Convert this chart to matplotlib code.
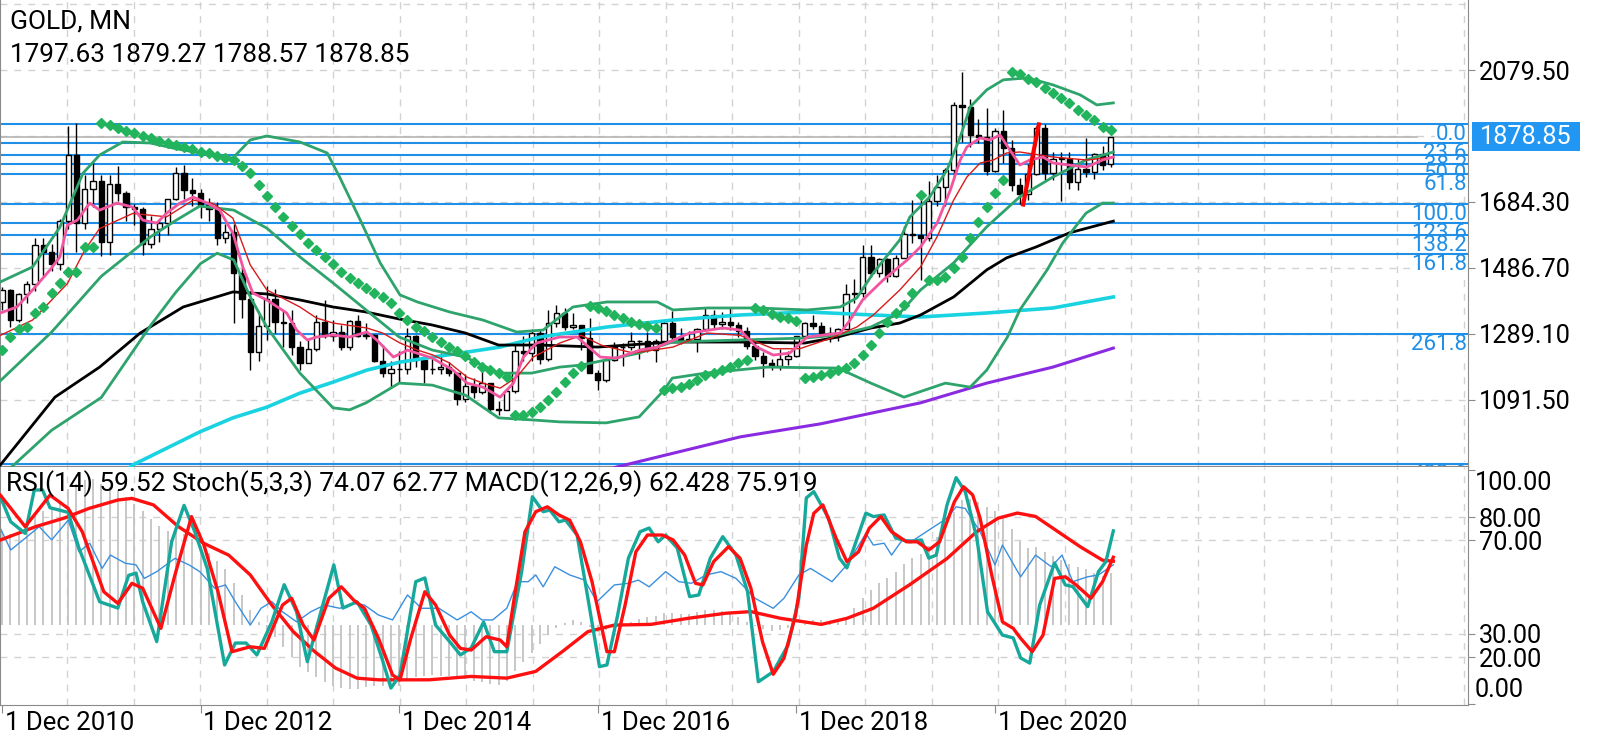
import matplotlib.pyplot as plt
from matplotlib.patches import Rectangle
from matplotlib.transforms import blended_transform_factory

plt.rcParams['font.family'] = ['Roboto', 'DejaVu Sans']

# monthly GOLD candles, bar 0 = Dec 2010 ... bar 134 = Feb 2022
opens = [1386, 1421, 1332, 1409, 1439, 1556, 1536, 1500, 1628, 1826, 1620, 1722,
         1746, 1564, 1737, 1710, 1669, 1664, 1560, 1604, 1622, 1692, 1772, 1719,
         1711, 1675, 1664, 1578, 1595, 1472, 1393, 1234, 1313, 1395, 1326, 1323,
         1251, 1202, 1244, 1326, 1284, 1296, 1250, 1327, 1282, 1287, 1209, 1171,
         1183, 1184, 1283, 1212, 1183, 1184, 1190, 1172, 1095, 1134, 1115, 1142,
         1065, 1061, 1118, 1238, 1233, 1293, 1215, 1322, 1351, 1309, 1316, 1277,
         1173, 1152, 1211, 1249, 1249, 1268, 1268, 1242, 1269, 1322, 1280, 1271,
         1275, 1303, 1345, 1318, 1325, 1316, 1298, 1253, 1224, 1201, 1192, 1215,
         1222, 1282, 1321, 1313, 1292, 1284, 1305, 1409, 1413, 1520, 1472, 1513,
         1464, 1517, 1589, 1585, 1577, 1687, 1730, 1781, 1975, 1968, 1886, 1879,
         1776, 1898, 1847, 1734, 1708, 1769, 1907, 1770, 1814, 1814, 1743, 1783,
         1775, 1829, 1797.63]
highs = [1431, 1424, 1411, 1448, 1576, 1577, 1560, 1632, 1912, 1921, 1764, 1803,
         1764, 1764, 1791, 1718, 1677, 1668, 1642, 1631, 1693, 1788, 1796, 1755,
         1723, 1695, 1683, 1617, 1617, 1487, 1417, 1348, 1434, 1424, 1361, 1361,
         1267, 1270, 1345, 1392, 1332, 1315, 1332, 1345, 1323, 1290, 1255, 1208,
         1239, 1307, 1285, 1220, 1224, 1232, 1205, 1175, 1170, 1157, 1191, 1143,
         1088, 1126, 1263, 1283, 1304, 1303, 1362, 1375, 1366, 1353, 1317, 1338,
         1181, 1220, 1264, 1261, 1295, 1270, 1296, 1274, 1331, 1357, 1306, 1299,
         1307, 1366, 1361, 1356, 1366, 1326, 1309, 1266, 1236, 1214, 1243, 1237,
         1284, 1326, 1347, 1324, 1310, 1306, 1439, 1453, 1555, 1557, 1517, 1516,
         1525, 1611, 1689, 1704, 1747, 1765, 1786, 1984, 2075, 1992, 1933, 1966,
         1906, 1959, 1871, 1755, 1798, 1913, 1917, 1834, 1834, 1835, 1814, 1877,
         1831, 1853, 1879.27]
lows = [1360, 1309, 1324, 1381, 1417, 1462, 1478, 1480, 1602, 1535, 1604, 1670,
        1523, 1527, 1688, 1627, 1614, 1527, 1546, 1564, 1584, 1690, 1692, 1672,
        1635, 1626, 1555, 1562, 1321, 1338, 1180, 1207, 1271, 1291, 1251, 1226,
        1182, 1202, 1238, 1277, 1268, 1240, 1240, 1281, 1273, 1205, 1161, 1131,
        1142, 1168, 1191, 1142, 1170, 1169, 1162, 1077, 1085, 1098, 1110, 1052,
        1046, 1061, 1111, 1208, 1208, 1200, 1208, 1310, 1301, 1303, 1241, 1171,
        1122, 1146, 1208, 1194, 1241, 1214, 1236, 1205, 1267, 1272, 1260, 1264,
        1236, 1302, 1307, 1303, 1302, 1281, 1245, 1211, 1160, 1180, 1182, 1196,
        1221, 1276, 1303, 1281, 1266, 1267, 1305, 1381, 1400, 1459, 1459, 1445,
        1459, 1517, 1563, 1451, 1568, 1671, 1671, 1757, 1863, 1849, 1860, 1764,
        1775, 1802, 1717, 1677, 1690, 1766, 1750, 1751, 1688, 1722, 1721, 1759,
        1753, 1780, 1788.57]
closes = [1421, 1332, 1409, 1439, 1556, 1536, 1500, 1628, 1826, 1620, 1722, 1746,
          1564, 1737, 1710, 1669, 1664, 1560, 1604, 1622, 1692, 1772, 1719, 1711,
          1675, 1664, 1578, 1595, 1472, 1393, 1234, 1313, 1395, 1326, 1323, 1251,
          1202, 1244, 1326, 1284, 1296, 1250, 1327, 1282, 1287, 1209, 1171, 1183,
          1184, 1283, 1212, 1183, 1184, 1190, 1172, 1095, 1134, 1115, 1142, 1065,
          1061, 1118, 1238, 1233, 1293, 1215, 1322, 1351, 1309, 1316, 1277, 1173,
          1152, 1211, 1249, 1249, 1268, 1268, 1242, 1269, 1322, 1280, 1271, 1275,
          1303, 1345, 1318, 1325, 1316, 1298, 1253, 1224, 1201, 1192, 1215, 1222,
          1282, 1321, 1313, 1292, 1284, 1305, 1409, 1413, 1520, 1472, 1513, 1464,
          1517, 1589, 1585, 1577, 1687, 1730, 1781, 1975, 1968, 1886, 1879, 1776,
          1898, 1847, 1734, 1708, 1769, 1907, 1770, 1814, 1814, 1743, 1783, 1775,
          1829, 1796, 1878.85]

date_bars = [0, 24, 48, 72, 96, 120]
date_labels = ["1 Dec 2010", "1 Dec 2012", "1 Dec 2014",
               "1 Dec 2016", "1 Dec 2018", "1 Dec 2020"]

# indicator lines as (bar, value)
bb_upper = [(-0.2, 1445), (3.7, 1490), (7, 1609), (9.8, 1771), (11.8, 1825), (14.6, 1864),
            (17.9, 1861), (21, 1844), (23.9, 1831), (27.9, 1816), (30, 1870), (32, 1882),
            (36, 1864), (39.3, 1831), (40.8, 1759), (43.3, 1630), (45.7, 1502), (48.1, 1406),
            (50.2, 1385), (54.1, 1355), (58.1, 1331), (62.2, 1295), (65.4, 1301), (67.4, 1340),
            (69, 1370), (73.1, 1385), (79.2, 1385), (81.1, 1361), (85.2, 1367), (91.2, 1367),
            (97.3, 1361), (101.3, 1370), (103.3, 1397), (105.3, 1472), (108.5, 1571),
            (109.7, 1639), (112.1, 1699), (114.2, 1780), (115.8, 1879), (117, 1969),
            (119, 2020), (121, 2050), (123.9, 2056), (127, 2035), (130.3, 2005),
            (132.3, 1975), (134.3, 1981)]
bb_middle = [(-0.2, 1149), (6, 1295), (12, 1462), (18, 1581), (21, 1629), (23.9, 1672),
             (28, 1660), (32, 1606), (36, 1520), (40, 1442), (44, 1361), (48, 1280),
             (52, 1241), (56, 1220), (60, 1172), (64, 1172), (67.4, 1190), (70, 1196),
             (77, 1232), (81, 1265), (89, 1271), (97, 1277), (101, 1286), (105, 1310),
             (108.5, 1352), (111, 1421), (115, 1502), (119, 1610), (123, 1700),
             (127, 1759), (131, 1810), (134.3, 1834)]
bb_lower = [(-0.2, 860), (6, 1001), (12, 1099), (18, 1316), (21, 1414), (24, 1500),
            (26, 1531), (28, 1511), (30, 1400), (32, 1310), (36, 1172), (40, 1068),
            (42, 1062), (44, 1083), (48, 1142), (52, 1136), (56, 1106), (60, 1038),
            (64, 1032), (67.4, 1026), (73, 1023), (77, 1041), (80, 1121), (81, 1157),
            (85, 1172), (92.5, 1190), (101, 1187), (105, 1142), (109, 1100), (114, 1142),
            (117, 1130), (119, 1181), (121.5, 1280), (123, 1361), (126.3, 1481),
            (128.2, 1562), (131, 1651), (133, 1681), (134.3, 1681)]
ma_black = [(-0.2, 897), (6.4, 1100), (11.8, 1190), (16.7, 1292), (21.9, 1370),
            (27.9, 1415), (32, 1409), (36, 1391), (40, 1370), (44, 1355), (48, 1334),
            (52, 1316), (56, 1292), (60, 1256), (65, 1256), (72, 1250), (81, 1265),
            (89, 1265), (97, 1262), (101, 1280), (105, 1307), (108.5, 1322), (111, 1346),
            (115, 1400), (119, 1481), (121.4, 1517), (125, 1550), (129, 1592), (134.3, 1627)]
ma_cyan = [(15, 880), (15.8, 897), (23.9, 996), (27.9, 1038), (32, 1070), (36, 1112),
           (40, 1145), (44.1, 1181), (48.1, 1205), (52.1, 1220), (56.2, 1235), (60.2, 1250),
           (65, 1280), (73.1, 1310), (81.1, 1331), (89.2, 1346), (97.3, 1355), (105.3, 1346),
           (111, 1340), (119, 1352), (127, 1367), (134.3, 1400)]
ma_purple = [(73.5, 885), (74.3, 891), (89.2, 981), (98.9, 1020), (111, 1083),
             (119, 1142), (127, 1190), (134.3, 1247)]
ma_pink = [(-0.2, 1352), (1.8, 1370), (3.7, 1421), (5.8, 1481), (7, 1520), (7.9, 1615),
           (9.1, 1630), (10.6, 1681), (11.8, 1660), (13.9, 1681), (15.8, 1669), (17, 1630),
           (18.7, 1621), (19.9, 1651), (21.5, 1681), (23.1, 1699), (24.8, 1681), (26.3, 1660),
           (27.9, 1591), (29.1, 1490), (30.3, 1412), (32, 1391), (34.4, 1352), (35.6, 1301),
           (36.9, 1271), (38, 1280), (40, 1286), (42, 1280), (44.1, 1295), (45.3, 1271),
           (47.3, 1220), (49, 1241), (52, 1217), (54.5, 1181), (56.2, 1142), (58.1, 1130),
           (60.2, 1100), (61.8, 1142), (63, 1220), (64.6, 1262), (67.4, 1280), (69.5, 1280),
           (72.3, 1220), (74.3, 1217), (77.1, 1241), (79.2, 1250), (83.1, 1292), (87.1, 1307),
           (89.2, 1301), (91.2, 1250), (93.2, 1226), (95.2, 1232), (97.3, 1280), (101.3, 1292),
           (102.5, 1331), (104, 1391), (106.5, 1451), (109.4, 1511), (111, 1550), (113, 1621),
           (114.6, 1720), (115.8, 1810), (116.6, 1849), (118.2, 1876), (119.4, 1870),
           (120.6, 1885), (121.8, 1840), (123, 1795), (124.2, 1810), (125.8, 1819),
           (127, 1801), (129, 1795), (131.1, 1789), (133, 1810), (134.3, 1819)]
ma_red = [(-0.2, 1285), (3.7, 1331), (7.9, 1440), (10, 1540), (11.8, 1605), (15.8, 1650),
          (19.9, 1640), (23.1, 1690), (25.5, 1680), (27.9, 1636), (30, 1496), (32, 1421),
          (36, 1370), (38, 1337), (40, 1322), (44.1, 1307), (46, 1292), (48.1, 1262),
          (50.2, 1241), (52.1, 1226), (54.1, 1202), (56.2, 1160), (58.1, 1142), (60.2, 1127),
          (62.2, 1160), (64.2, 1220), (67.4, 1262), (70, 1285), (72.5, 1255), (76.3, 1232),
          (81.1, 1250), (85.2, 1292), (89.2, 1285), (93.2, 1245), (96.4, 1245), (100, 1275),
          (103.3, 1310), (105.3, 1346), (108.5, 1421), (111, 1490), (113, 1580), (115, 1690),
          (116.6, 1759), (118.2, 1801), (119.8, 1810), (121.4, 1831), (123, 1834),
          (127, 1819), (131.1, 1810), (134.3, 1819)]

# parabolic SAR, one dot per bar
sar = [1241, 1279, 1305, 1311, 1351, 1371, 1411, 1443, 1476, 1476, 1551, 1551,
       1922, 1915, 1907, 1897, 1890, 1882, 1875, 1867, 1860, 1855, 1848, 1842,
       1835, 1830, 1822, 1815, 1810, 1793, 1770, 1735, 1702, 1670, 1640, 1612,
       1588, 1561, 1541, 1519, 1498, 1476, 1458, 1441, 1426, 1411, 1399, 1381,
       1353, 1331, 1311, 1299, 1281, 1266, 1251, 1239, 1224, 1206, 1191, 1181,
       1172, 1161, 1047, 1047, 1057, 1072, 1092, 1116, 1146, 1171, 1193, 1373,
       1366, 1359, 1346, 1336, 1326, 1319, 1313, 1306, 1121, 1126, 1131, 1139,
       1151, 1166, 1171, 1181, 1191, 1201, 1211, 1366, 1361, 1349, 1341, 1336,
       1329, 1157, 1161, 1166, 1171, 1180, 1188, 1202, 1226, 1256, 1293, 1326,
       1352, 1376, 1411, 1704, 1451, 1451, 1461, 1486, 1521, 1576, 1625, 1670,
       1710, 1750, 2074, 2069, 2054, 2044, 2025, 2010, 1995, 1980, 1960, 1945,
       1930, 1910, 1900]

# fibonacci retracement (Mar 2021 low -> Jun 2021 high)
fib_high = 1916.6
fib_low = 1676.9
fib_levels = [0.0, 23.6, 38.2, 50.0, 61.8, 100.0, 123.6, 138.2, 161.8, 261.8, 423.6]
fib_anchor = [(123.4, 1676.9), (125.3, 1916.6)]

# lower window: stochastic, RSI, MACD
stoch_main = [(-0.2, 88.7), (1.05, 78), (2.8, 73), (3.9, 91.6), (4.9, 91.6), (5.8, 84), (8.0, 82),
              (9.3, 66.7), (11.8, 43.7), (14.0, 41), (15.3, 55), (16.2, 56), (17.0, 43.7),
              (18.7, 26.6), (20.5, 69.4), (22.0, 85), (23.3, 73.7), (24.8, 58), (26.9, 16.6),
              (28.2, 26), (29.5, 26), (30.8, 20.9), (32.6, 35), (34.1, 51), (35.6, 39.4),
              (36.9, 18), (38.2, 35), (40.1, 59.5), (41.2, 41), (42.9, 43.7), (44.6, 33.7),
              (45.9, 19.6), (47.0, 6.7), (48.1, 12.3), (50.0, 52.3), (51.1, 53.9), (52.4, 33.7),
              (54.1, 26.6), (55.4, 20.9), (56.7, 23.9), (58.2, 35), (59.5, 22.3), (61.0, 22.3),
              (62.8, 56.6), (64.1, 88.7), (65.4, 82.3), (66.2, 83), (67.3, 78), (68.1, 78.7),
              (69.5, 72.3), (70.8, 45.3), (72.2, 15.9), (73.1, 16.6), (74.4, 38), (75.7, 62.4),
              (77.1, 73.7), (78.2, 75.3), (79.3, 69.4), (80.2, 72.3), (81.6, 66.7), (83.1, 45.9),
              (84.2, 46.6), (85.6, 62.4), (87.1, 71.6), (88.7, 63.7), (90.1, 48), (91.4, 9.4),
              (93.2, 13.7), (95.0, 25.2), (96.3, 45.3), (97.2, 88.2), (98.1, 90.9), (99.9, 79.5),
              (101.2, 62.4), (102.1, 58.2), (104.4, 81.7), (105.3, 80.2), (106.6, 80.9),
              (108.0, 71), (109.7, 69.4), (111.1, 70.2), (112.0, 62.4), (112.9, 63.7),
              (114.2, 85.2), (115.3, 96.9), (116.4, 90.9), (117.8, 71), (119.1, 39.4),
              (120.9, 29.4), (122.2, 28.2), (123.1, 19.6), (124.2, 17.4), (125.4, 42.3),
              (127.2, 60.3), (128.5, 50.9), (129.4, 50.2), (131.2, 41.6), (132.5, 56.6),
              (133.4, 60.9), (134.3, 74.07)]
stoch_signal = [(-0.2, 89.4), (2.8, 75.9), (5.8, 89.4), (8.0, 83.7), (9.7, 73.7), (12.3, 48),
                (14.0, 43), (15.7, 51.6), (17.0, 49.5), (19.2, 32.3), (20.9, 55.2), (22.9, 80.2),
                (24.4, 68), (26.1, 48), (27.8, 22.3), (30.0, 24.4), (31.7, 23.7), (33.9, 42.3),
                (35.0, 45.2), (36.4, 33.7), (37.7, 27.3), (39.5, 45.2), (41.0, 50.1), (42.5, 44.4),
                (43.8, 40.9), (45.5, 28), (47.2, 12.3), (48.1, 10.2), (49.4, 28), (51.1, 48),
                (52.4, 42.3), (54.1, 29.4), (55.4, 23.7), (56.7, 23), (58.5, 28.7), (60.2, 27.3),
                (61.0, 24.4), (61.9, 45.2), (63.2, 73.7), (64.5, 82.3), (65.9, 84.4), (67.3, 80.9),
                (68.6, 78.7), (69.9, 69.4), (71.3, 52.3), (73.1, 22.3), (74.0, 22.3), (75.3, 42.3),
                (76.6, 65.1), (78.0, 72.3), (79.8, 72.3), (81.1, 70.2), (82.5, 63.7), (83.8, 51.6),
                (84.7, 50.9), (86.0, 60.9), (87.8, 67.3), (89.2, 62.3), (90.5, 49.5), (91.9, 26.6),
                (93.2, 12.6), (94.5, 19.5), (95.9, 38), (97.2, 68), (98.1, 81.6), (99.2, 85.2),
                (100.8, 70.9), (102.1, 60.9), (103.5, 65.1), (104.8, 75.2), (106.2, 80.2),
                (107.5, 73.7), (109.3, 69.4), (110.6, 69.4), (112.0, 65.9), (113.3, 69.4),
                (115.1, 86.6), (116.2, 93), (117.3, 89.5), (118.2, 79.5), (119.6, 55.2),
                (120.9, 35.1), (122.2, 32.3), (123.1, 28), (124.5, 22.3), (125.8, 29.4),
                (127.2, 53.7), (128.5, 54.4), (129.8, 50.9), (131.6, 45.2), (133.0, 52.3),
                (134.3, 62.77)]
rsi = [(-0.2, 75.2), (1.05, 65.9), (2.8, 70.9), (4.5, 75.9), (6.0, 70.2), (8.0, 78.7), (9.3, 65.1),
       (10.6, 68.8), (12.1, 58), (13.1, 63.7), (14.9, 60.2), (16.2, 59.5), (17.2, 53.7),
       (18.7, 56.6), (20.9, 62.3), (22.6, 59.5), (23.9, 56.6), (25.7, 49.5), (27.0, 50.9),
       (28.2, 43.7), (30.0, 33.7), (31.3, 40.9), (32.6, 43.7), (33.9, 39.4), (35.6, 35.1),
       (37.3, 39.4), (39.0, 42.3), (40.8, 40.9), (42.5, 43), (43.8, 42.3), (45.5, 38),
       (47.2, 35.9), (49.0, 46.6), (50.7, 40.9), (52.8, 40.9), (55.0, 35.9), (56.7, 39.4),
       (58.0, 35.9), (59.3, 35.9), (61.0, 40.9), (62.3, 52.3), (63.6, 52.3), (64.5, 55.2),
       (65.4, 50.1), (66.8, 58.7), (68.6, 55.2), (70.4, 53), (71.9, 43.7), (74.0, 50.9),
       (75.7, 51.6), (76.9, 53), (78.2, 50.1), (80.2, 56.6), (81.8, 52.3), (83.3, 51.6),
       (85.1, 55.2), (86.9, 56.6), (88.7, 53.7), (91.0, 45.2), (93.2, 40.9), (94.5, 45.2),
       (96.3, 55.2), (97.7, 58), (100.3, 52.3), (102.1, 59.5), (104.4, 73), (105.3, 68),
       (106.6, 68.8), (107.5, 63.7), (108.8, 70.2), (110.2, 70.2), (112.0, 74.4), (114.2, 79.5),
       (115.3, 84.4), (116.4, 83.7), (118.2, 73.7), (120.0, 59.5), (120.9, 68), (123.1, 54.4),
       (124.9, 63.7), (126.8, 58.7), (128.1, 63.7), (129.4, 52.3), (131.2, 54.4),
       (132.5, 55.2), (134.3, 59.52)]
macd_signal = [(-0.2, 101), (4.1, 117), (7.5, 127), (10.5, 138.5), (14.0, 148.5), (15.7, 150.4),
               (18.3, 142.7), (21.3, 117), (24.4, 97), (27.4, 83), (30.0, 59.6), (32.6, 23.8),
               (35.2, -7.8), (37.8, -31.6), (40.3, -51), (42.9, -63), (45.5, -65), (51.6, -65),
               (56.7, -61), (61.0, -63), (64.5, -55), (67.7, -31.6), (70.8, -7.8), (74.0, 0),
               (78.4, 0.8), (82.9, 8), (87.4, 14), (90.5, 16), (94.1, 8), (99.0, 0.8), (102.1, 8),
               (105.3, 20), (109.7, 48), (114.2, 79), (117.8, 111), (120.4, 127), (122.7, 133),
               (124.9, 129), (127.6, 111), (130.3, 93), (133.0, 77), (134.3, 75.919)]
macd_hist = [112, 108, 110, 118, 130, 136, 138, 146, 162, 168, 172, 174,
             168, 164, 160, 152, 144, 136, 126, 118, 112, 110, 108, 102,
             94, 86, 76, 66, 50, 36, 18, 4, -6, -14, -26, -38,
             -50, -56, -62, -68, -72, -75, -76, -76, -73, -72, -72, -74,
             -72, -66, -62, -60, -59, -60, -61, -63, -64, -66, -68, -70,
             -71, -66, -54, -44, -33, -22, -12, -4, 2, 6, 4, -2,
             -8, -6, -3, 1, 4, 7, 9, 11, 14, 14, 13, 13,
             15, 18, 18, 17, 14, 9, 4, -1, -5, -7, -6, -3,
             0, 4, 6, 6, 5, 5, 10, 20, 32, 42, 50, 56,
             63, 72, 80, 84, 94, 104, 116, 134, 148, 150, 146, 140,
             136, 128, 114, 100, 92, 93, 87, 82, 77, 73, 69, 66,
             62, 58, 62.428]

# ---- layout (pixel geometry of the terminal screenshot) ----
W, H = 1600, 740
BAR_PX, BAR0_PX = 8.275, 2.0
RIGHT_PX, SPLIT_PX, BOTTOM_PX = 1468, 467, 705


def bar_at(px):
    return (px - BAR0_PX) / BAR_PX


def fpx(x, y):
    return x / W, 1 - y / H


fib_color = '#1f8fe8'
grid_kw = dict(color='#d2d2d2', lw=1, dashes=(5, 5), zorder=0)
vgrid = [bar_at(67 + 66.5 * k) for k in range(22)]

fig = plt.figure(figsize=(16, 7.4), dpi=100)
ax = fig.add_axes([0, (H - SPLIT_PX) / H, RIGHT_PX / W, SPLIT_PX / H])
ax2 = fig.add_axes([0, (H - BOTTOM_PX) / H, RIGHT_PX / W, (BOTTOM_PX - SPLIT_PX) / H])

# price axis: 2079.5 at y=70px, 2.994 per px
ax.set_ylim(2079.5 - (SPLIT_PX - 70) * 2.994, 2079.5 + 70 * 2.994)
ax.set_xlim(bar_at(0), bar_at(RIGHT_PX))
ax2.set_xlim(bar_at(0), bar_at(RIGHT_PX))
ax2.set_ylim((703.7 - BOTTOM_PX) / 2.333, (703.7 - SPLIT_PX) / 2.333)

for a in (ax, ax2):
    for x in vgrid:
        a.axvline(x, **grid_kw)
    a.spines['top'].set_visible(False)
    for s in ('left', 'right', 'bottom'):
        a.spines[s].set_color('#8a8a8a')
    a.set_xticks([])
    a.yaxis.tick_right()
    a.tick_params(axis='y', direction='out', length=5, color='#8a8a8a',
                  labelsize=18.2, pad=3)
ax.spines['bottom'].set_linewidth(1.6)

price_ticks = [1091.5, 1289.1, 1486.7, 1684.3, 1881.9, 2079.5, 2277.1]
for p in price_ticks:
    ax.axhline(p, **grid_kw)
ax.set_yticks([1091.5, 1289.1, 1486.7, 1684.3, 2079.5])
ax.set_yticklabels(['%.2f' % p for p in [1091.5, 1289.1, 1486.7, 1684.3, 2079.5]])

# fibonacci levels: each label sits just under its line, later labels cover earlier ones
for i, lv in enumerate(fib_levels):
    price = fib_high - lv / 100 * (fib_high - fib_low)
    ax.axhline(price, color=fib_color, lw=1.5, zorder=1.6)
    ax.text(bar_at(1467), price, '%.1f' % lv, color=fib_color, fontsize=16,
            ha='right', va='top', clip_on=True, zorder=1.1 + 0.01 * i,
            bbox=dict(facecolor='white', edgecolor='none', pad=1.0))
ax.plot([p[0] for p in fib_anchor], [p[1] for p in fib_anchor],
        color='red', lw=3, zorder=5)

# bid line
ax.plot([bar_at(0), bar_at(1417)], [closes[-1]] * 2, color='#b5b5b5', lw=1.2, zorder=1.7)

# candles
bars = list(range(len(closes)))
ax.vlines(bars, lows, highs, color='black', lw=1, zorder=2)
body_lo = [min(o, c) for o, c in zip(opens, closes)]
body_h = [max(abs(c - o), 0.8) for o, c in zip(opens, closes)]
face = ['white' if c >= o else 'black' for o, c in zip(opens, closes)]
ax.bar(bars, body_h, bottom=body_lo, width=0.64, color=face,
       edgecolor='black', linewidth=1, zorder=2)


def line(a, pts, **kw):
    a.plot([p[0] for p in pts], [p[1] for p in pts], **kw)


bb_color = '#2ea36b'
line(ax, ma_purple, color='#8a2be2', lw=2.2, zorder=3)
line(ax, ma_cyan, color='#19d3e0', lw=2.6, zorder=3)
line(ax, ma_black, color='black', lw=2, zorder=3)
line(ax, bb_upper, color=bb_color, lw=2, zorder=3)
line(ax, bb_middle, color=bb_color, lw=2, zorder=3)
line(ax, bb_lower, color=bb_color, lw=2, zorder=3)
line(ax, ma_red, color='#d81b1b', lw=1, zorder=3)
line(ax, ma_pink, color='#f2559f', lw=2, zorder=3)
ax.plot(bars, sar, ls='none', marker='D', ms=5, color='#22b45c', zorder=4)

# lower window
for v in (20, 30, 70, 80):
    ax2.axhline(v, **grid_kw)
ax2.set_yticks([0, 20, 30, 70, 80, 100])
ax2.set_yticklabels(['', '20.00', '30.00', '70.00', '80.00', ''])
macd_base, macd_k = 33.7, 0.361
ax2.vlines(bars, macd_base, [macd_base + macd_k * m for m in macd_hist],
           color='#c3c3c3', lw=1.3, zorder=1)
line(ax2, rsi, color='#3a8fe0', lw=1, zorder=2)
line(ax2, [(b, macd_base + macd_k * m) for b, m in macd_signal], color='#ff1010', lw=2.4, zorder=3)
line(ax2, stoch_main, color='#17a89c', lw=2.4, zorder=3)
line(ax2, stoch_signal, color='#ff1010', lw=2.4, zorder=4)

# x labels
ax2.set_xticks(date_bars)
ax2.set_xticklabels([''] * len(date_bars))
ax2.tick_params(axis='x', direction='out', length=6, color='#8a8a8a')
tr = blended_transform_factory(ax2.transData, fig.transFigure)
for b, lab in zip(date_bars, date_labels):
    ax2.text(b + 0.35, 1 - 723 / H, lab, transform=tr, fontsize=18.5,
             ha='left', va='center', clip_on=False)

# texts
fig.text(*fpx(10, 22), 'GOLD, MN', fontsize=19, va='center', ha='left')
fig.text(*fpx(10, 55), '1797.63 1879.27 1788.57 1878.85', fontsize=18.8,
         va='center', ha='left')
fig.text(*fpx(6, 484), 'RSI(14) 59.52 Stoch(5,3,3) 74.07 62.77 MACD(12,26,9) 62.428 75.919',
         fontsize=19, va='center', ha='left', zorder=10)
fig.text(*fpx(1475, 483), '100.00', fontsize=18.2, va='center', ha='left')
fig.text(*fpx(1475, 690), '0.00', fontsize=18.2, va='center', ha='left')

x0, y0 = fpx(1472, 151)
fig.patches.append(Rectangle((x0, y0), 108 / W, 29 / H, transform=fig.transFigure,
                             facecolor='#2196f3', edgecolor='none', zorder=5))
fig.text(*fpx(1526, 136.5), '%.2f' % closes[-1], fontsize=18.2, color='white',
         va='center', ha='center', zorder=6)

fig.savefig('out.png', dpi=100, facecolor='white')
